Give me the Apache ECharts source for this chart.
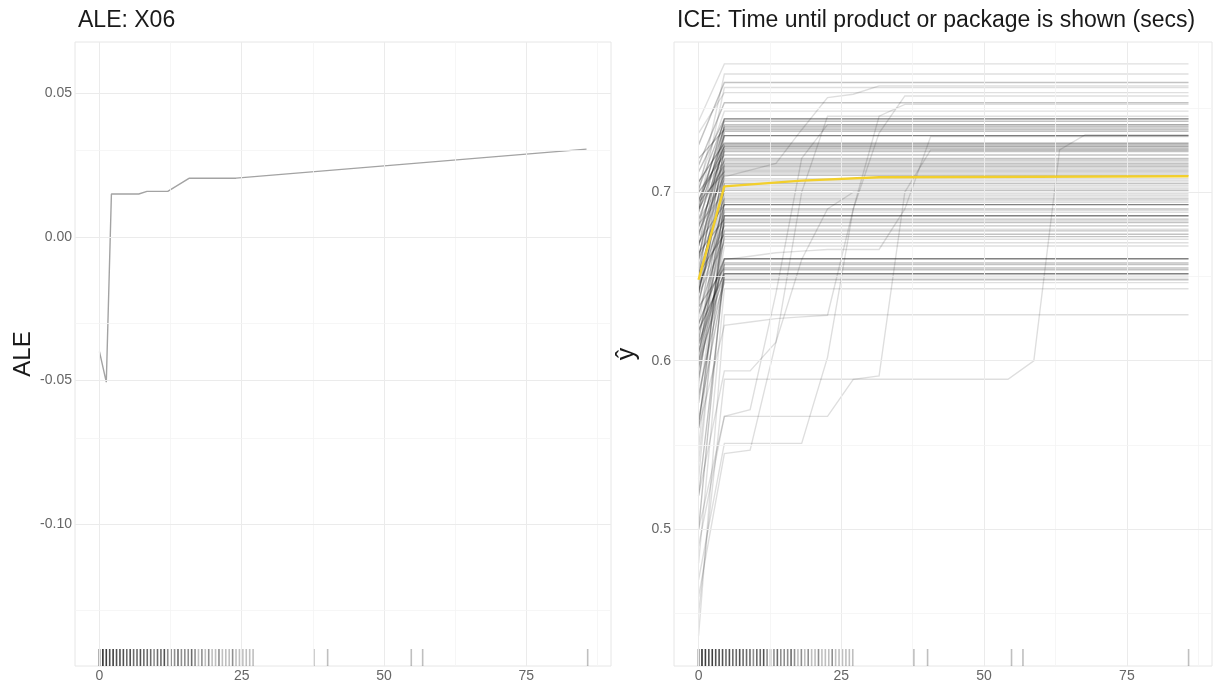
<!DOCTYPE html>
<html><head><meta charset="utf-8">
<script src="https://cdn.jsdelivr.net/npm/echarts@6/dist/echarts.min.js"></script>
<style>html,body{margin:0;padding:0;background:#fff}#c{width:1214px;height:687px}</style>
</head><body><div id="c"></div>
<script>
// ---------- DATA ----------
const aleTitle = 'ALE: X06';
const iceTitle = 'ICE: Time until product or package is shown (secs)';
const aleX = [0, 1.2, 2.1, 6.9, 8.35, 12.0, 15.8, 24.0, 85.6];
const aleY = [-0.040, -0.0506, 0.0149, 0.0149, 0.0158, 0.0158, 0.0204, 0.0204, 0.0305];
const xTicks = [0, 25, 50, 75];
const xMinor = [12.5, 37.5, 62.5, 87.5];
const aleYTicks = [-0.10, -0.05, 0.00, 0.05];
const aleYMinor = [-0.125, -0.075, -0.025, 0.025];
const iceYTicks = [0.5, 0.6, 0.7];
const iceYMinor = [0.45, 0.55, 0.65, 0.75];
const iceGrid = [0, 4.52, 9.03, 13.55, 18.06, 22.58, 27.09, 31.61, 36.12, 40.64, 45.15, 49.67, 54.18, 58.70, 63.21, 67.73, 72.24, 76.76, 81.27, 85.79];
// ICE curves that jump once (value at 0, then constant plateau); weight = number of overlapping observations
const iceStart = [0.742,0.700,0.728,0.690,0.735,0.716,0.705,0.690,0.712,0.702,0.680,0.668,0.695,0.720,0.660,0.688,0.650,0.706,0.674,0.695,0.640,0.684,0.662,0.700,0.655,0.679,0.632,0.690,0.668,0.646,0.694,0.620,0.676,0.662,0.684,0.640,0.669,0.598,0.652,0.681,0.626,0.660,0.585,0.642,0.670,0.612,0.650,0.560,0.636,0.664,0.605,0.645,0.540,0.628,0.652,0.590,0.617,0.640,0.575,0.622,0.605,0.500,0.610,0.632,0.596,0.618,0.520,0.580,0.610,0.565,0.600,0.480,0.437,0.700,0.600,0.588,0.612,0.548,0.595,0.530,0.575];
const icePlateau = [0.776,0.770,0.765,0.762,0.759,0.753,0.748,0.7434,0.7434,0.742,0.740,0.739,0.738,0.737,0.736,0.7335,0.7335,0.729,0.728,0.727,0.726,0.725,0.724,0.722,0.720,0.719,0.717,0.716,0.715,0.713,0.712,0.711,0.710,0.708,0.707,0.705,0.704,0.702,0.701,0.699,0.698,0.696,0.695,0.6926,0.6926,0.690,0.688,0.686,0.686,0.684,0.682,0.680,0.678,0.677,0.675,0.6736,0.672,0.670,0.668,0.6605,0.6605,0.658,0.657,0.655,0.654,0.6516,0.6516,0.650,0.649,0.648,0.6463,0.6427,0.6273,0.718,0.714,0.706,0.703,0.697,0.694,0.689,0.683];
const iceWeight = [1,1,2,1,1,2,1,3,2,2,2,2,2,2,2,3,2,3,3,3,2,2,2,2,2,2,2,2,2,2,2,1,2,1,1,2,1,1,2,1,1,2,1,3,2,2,1,3,2,2,2,2,1,2,2,2,1,1,1,3,2,2,2,2,2,3,2,2,1,2,1,1,1,1,1,1,1,1,1,1,1];
// curves that keep changing after the first grid step (values at successive grid points, flat afterwards)
const iceLate1 = [0.470,0.551,0.551,0.551,0.551,0.602,0.690,0.735,0.757];
const iceLate2 = [0.460,0.545,0.547,0.611,0.700,0.745];
const iceLate3 = [0.500,0.567,0.571,0.640,0.720,0.740];
const iceLate4 = [0.520,0.594,0.594,0.611,0.660,0.690,0.700];
const iceLate5 = [0.450,0.589,0.589,0.589,0.589,0.589,0.589,0.589,0.589,0.589,0.589,0.589,0.589,0.600,0.725,0.734];
const iceLate6 = [0.560,0.621,0.623,0.625,0.626,0.627,0.690,0.745,0.752];
const iceLate7 = [0.490,0.567,0.567,0.567,0.567,0.567,0.589,0.591,0.700,0.725];
const iceLate8 = [0.640,0.709,0.713,0.717,0.737,0.756,0.758,0.763];
const iceLate9 = [0.600,0.660,0.662,0.664,0.665,0.666,0.666,0.666,0.690,0.733];
const pdpX = [0, 4.52, 18.06, 31.61, 85.79];
const pdpY = [0.648, 0.7034, 0.7068, 0.7088, 0.7094];
const rugX = [0,0.6,1.2,1.8,2.4,3,3.6,4.2,4.8,5.4,6,6.6,7.2,7.8,8.4,9,9.6,10.2,10.8,11.4,12,12.6,13.2,13.8,14.4,15,15.6,16.2,16.8,17.4,18,18.6,19.2,19.8,20.4,21,21.6,22.2,22.8,23.4,24,24.6,25.2,25.8,26.4,27,37.7,40.1,54.8,56.8,85.8];
const rugCount = [8,6,5,4,5,4,4,4,3,4,3,3,4,3,3,3,2,3,3,4,2,2,2,3,2,2,2,3,2,1,2,1,2,1,1,2,1,1,1,2,1,1,1,1,1,1,1,1,1,1,1];

// ---------- CHART ----------
const FONT = 'Liberation Sans, Arial, Helvetica, sans-serif';
const chart = echarts.init(document.getElementById('c'), null, {renderer: 'canvas'});
const ALE_MIN = -0.1494, ALE_MAX = 0.0678, ICE_MIN = 0.419, ICE_MAX = 0.789, X_MIN = -4.3, X_MAX = 89.9;

function gridLines(ax, minorV, majorV) {
  const d = [];
  minorV.forEach(v => d.push({[ax]: v, lineStyle: {color: '#f4f4f4', width: 0.8}}));
  majorV.forEach(v => d.push({[ax]: v, lineStyle: {color: '#ebebeb', width: 1}}));
  return d;
}
function gridSeries(idx, yMinor, yMajor) {
  return {
    type: 'line', xAxisIndex: idx, yAxisIndex: idx, data: [], silent: true, z: 0,
    markLine: {silent: true, symbol: ['none', 'none'], label: {show: false}, animation: false,
      lineStyle: {type: 'solid'},
      data: gridLines('xAxis', xMinor, xTicks).concat(gridLines('yAxis', yMinor, yMajor))}
  };
}
function rugSeries(idx, yMin) {
  return {
    type: 'scatter', xAxisIndex: idx, yAxisIndex: idx, silent: true, z: 3, clip: false,
    symbol: 'rect', symbolSize: [1.6, 17], symbolOffset: [0, -8.5],
    data: rugX.map((x, i) => ({value: [x, yMin], itemStyle: {color: '#000', opacity: 1 - Math.pow(0.75, rugCount[i])}}))
  };
}
const iceCurves = iceStart.map((s, i) => ({
  coords: [[iceGrid[0], s], [iceGrid[1], icePlateau[i]], [iceGrid[iceGrid.length - 1], icePlateau[i]]],
  lineStyle: {opacity: 1 - Math.pow(0.875, iceWeight[i])}
}));
[iceLate1, iceLate2, iceLate3, iceLate4, iceLate5, iceLate6, iceLate7, iceLate8, iceLate9].forEach(arr => {
  const c = arr.map((v, i) => [iceGrid[i], v]);
  c.push([iceGrid[iceGrid.length - 1], arr[arr.length - 1]]);
  iceCurves.push({coords: c, lineStyle: {opacity: 0.13}});
});

const axisLabel = {color: '#666', fontSize: 14, fontFamily: FONT};
function xAxis(idx) {
  return {type: 'value', gridIndex: idx, min: X_MIN, max: X_MAX,
    axisLine: {show: false}, axisTick: {show: false}, splitLine: {show: false},
    axisLabel: Object.assign({customValues: xTicks, margin: 3, formatter: v => String(v)}, axisLabel)};
}
const option = {
  animation: false,
  backgroundColor: '#fff',
  title: [
    {text: aleTitle, left: 73, top: 4, textStyle: {fontFamily: FONT, fontSize: 23, fontWeight: 'normal', color: '#1a1a1a'}},
    {text: iceTitle, left: 672, top: 4, textStyle: {fontFamily: FONT, fontSize: 23, fontWeight: 'normal', color: '#1a1a1a'}}
  ],
  grid: [
    {left: 75, right: 603, top: 42, bottom: 21, show: true, borderColor: '#e6e6e6', borderWidth: 1, backgroundColor: 'transparent'},
    {left: 674, right: 2, top: 42, bottom: 21, show: true, borderColor: '#e6e6e6', borderWidth: 1, backgroundColor: 'transparent'}
  ],
  xAxis: [xAxis(0), xAxis(1)],
  yAxis: [
    {type: 'value', gridIndex: 0, min: ALE_MIN, max: ALE_MAX, name: 'ALE', nameLocation: 'middle', nameGap: 40,
      nameTextStyle: {fontFamily: FONT, fontSize: 24, color: '#1a1a1a'},
      axisLine: {show: false}, axisTick: {show: false}, splitLine: {show: false},
      axisLabel: Object.assign({customValues: aleYTicks, margin: 3, formatter: v => v.toFixed(2)}, axisLabel)},
    {type: 'value', gridIndex: 1, min: ICE_MIN, max: ICE_MAX, name: 'ŷ', nameLocation: 'middle', nameGap: 34,
      nameTextStyle: {fontFamily: FONT, fontSize: 25, color: '#1a1a1a'},
      axisLine: {show: false}, axisTick: {show: false}, splitLine: {show: false},
      axisLabel: Object.assign({customValues: iceYTicks, margin: 3, formatter: v => v.toFixed(1)}, axisLabel)}
  ],
  series: [
    gridSeries(0, aleYMinor, aleYTicks),
    gridSeries(1, iceYMinor, iceYTicks),
    {type: 'line', xAxisIndex: 0, yAxisIndex: 0, data: aleX.map((x, i) => [x, aleY[i]]), showSymbol: false, symbol: 'none',
      lineStyle: {color: '#a3a3a3', width: 1.4}, z: 4},
    rugSeries(0, ALE_MIN),
    {type: 'lines', coordinateSystem: 'cartesian2d', xAxisIndex: 1, yAxisIndex: 1, polyline: true, silent: true, z: 2,
      lineStyle: {color: '#000', width: 1.4}, data: iceCurves},
    {type: 'line', xAxisIndex: 1, yAxisIndex: 1, data: pdpX.map((x, i) => [x, pdpY[i]]), showSymbol: false, symbol: 'none',
      lineStyle: {color: '#f2cf2c', width: 2.4}, z: 5},
    rugSeries(1, ICE_MIN)
  ]
};
chart.setOption(option);
</script></body></html>
